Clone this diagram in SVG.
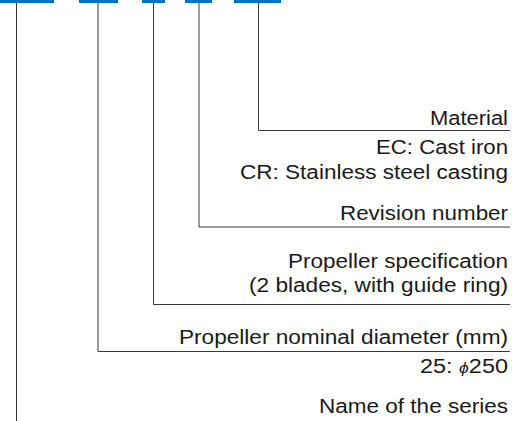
<svg xmlns="http://www.w3.org/2000/svg" width="528" height="421" viewBox="0 0 528 421">
<style>
.bar{fill:#0072bc}
.ln{stroke:#3a3a3a;stroke-width:1;fill:none}
.t{font-family:"Liberation Sans",Arial,Helvetica,sans-serif;font-size:20px;fill:#1a1a1a;text-anchor:end}
.phi{font-size:15px;font-style:italic}
</style>
<rect width="528" height="421" fill="#fff"/>
<g id="segments">
<rect class="bar" x="0" y="0" width="54" height="3"/>
<rect class="bar" x="79" y="0" width="39" height="3"/>
<rect class="bar" x="142" y="0" width="23" height="3"/>
<rect class="bar" x="185" y="0" width="27" height="3"/>
<rect class="bar" x="234" y="0" width="47" height="3"/>
</g>
<g id="connectors">
<polyline class="ln" points="258.5,3 258.5,130.5 510,130.5"/>
<polyline class="ln" points="199,3 199,227 510,227"/>
<polyline class="ln" points="153.5,3 153.5,304.5 510,304.5"/>
<polyline class="ln" points="98,3 98,351.5 510,351.5"/>
<polyline class="ln" points="16.5,3 16.5,421"/>
</g>
<g id="material">
<text class="t" x="508" y="125" textLength="78" lengthAdjust="spacingAndGlyphs">Material</text>
<text class="t" x="508" y="154" textLength="132" lengthAdjust="spacingAndGlyphs">EC: Cast iron</text>
<text class="t" x="508" y="179" textLength="268" lengthAdjust="spacingAndGlyphs">CR: Stainless steel casting</text>
</g>
<g id="revision">
<text class="t" x="508" y="220" textLength="168" lengthAdjust="spacingAndGlyphs">Revision number</text>
</g>
<g id="spec">
<text class="t" x="508" y="268" textLength="220" lengthAdjust="spacingAndGlyphs">Propeller specification</text>
<text class="t" x="508" y="292" textLength="259" lengthAdjust="spacingAndGlyphs">(2 blades, with guide ring)</text>
</g>
<g id="diameter">
<text class="t" x="508" y="344" textLength="329" lengthAdjust="spacingAndGlyphs">Propeller nominal diameter (mm)</text>
<text class="t" x="508" y="373" textLength="88" lengthAdjust="spacingAndGlyphs">25: <tspan class="phi">ϕ</tspan>250</text>
</g>
<g id="series">
<text class="t" x="508" y="413" textLength="189" lengthAdjust="spacingAndGlyphs">Name of the series</text>
</g>
</svg>
